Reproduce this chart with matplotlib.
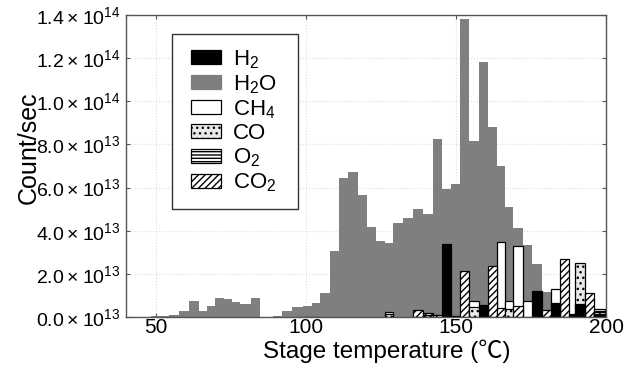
import matplotlib
matplotlib.use("Agg")
import matplotlib.pyplot as plt
import numpy as np
from matplotlib.patches import Patch, Rectangle

plt.rcParams['font.family'] = ['Liberation Sans', 'DejaVu Sans']
plt.rcParams['mathtext.fontset'] = 'custom'
plt.rcParams['mathtext.rm'] = 'Liberation Sans'
plt.rcParams['mathtext.default'] = 'regular'
plt.rcParams['hatch.linewidth'] = 1.0

# Temperature bin edges (deg C)
temp_edges = [48.2, 51.3, 54.4, 57.8, 61.1, 64.3, 66.9, 69.6, 72.7, 75.2,
              78.0, 81.5, 84.7, 88.9, 92.1, 95.4, 98.9, 101.9, 104.7, 108.0,
              111.1, 114.1, 117.2, 120.2, 123.2, 126.3, 129.1, 132.4, 135.8, 138.9,
              142.2, 145.4, 148.3, 151.3, 154.3, 157.7, 160.7, 163.6, 166.2, 169.1,
              172.4, 175.4, 178.6, 181.6, 184.5, 187.5, 189.5, 193.0, 196.0, 199.7]

# Counts (units of 1e13 count/sec), one per bin
h2o = [0.03, 0.05, 0.10, 0.30, 0.72, 0.26, 0.49, 0.90, 0.85, 0.70,
       0.62, 0.90, 0.00, 0.05, 0.26, 0.45, 0.52, 0.66, 1.13, 3.06,
       6.46, 6.74, 5.66, 4.16, 3.52, 3.42, 4.34, 4.58, 5.00, 4.78,
       8.27, 5.92, 6.18, 13.8, 8.15, 11.84, 8.80, 7.02, 5.10, 4.13,
       3.34, 2.46, 1.17, 0.50, 0.00, 0.00, 0.00, 0.00, 0.00]

h2 = [0, 0, 0, 0, 0, 0, 0, 0, 0, 0,
      0, 0, 0, 0, 0, 0, 0.02, 0.02, 0, 0,
      0, 0, 0, 0, 0, 0, 0, 0, 0, 0,
      0, 3.37, 0.05, 0, 0, 0.56, 0, 0, 0, 0,
      0, 1.22, 0, 0.66, 0, 0.15, 0.60, 0, 0.14]

ch4 = [0, 0, 0, 0, 0, 0, 0, 0, 0, 0,
       0, 0, 0, 0, 0, 0, 0, 0, 0, 0,
       0, 0, 0, 0, 0, 0.25, 0, 0, 0, 0,
       0, 0, 0, 0, 0.76, 0, 0, 3.48, 0.73, 3.29,
       0.76, 0, 0, 1.28, 0, 0, 0, 0, 0.36]

co = [0, 0, 0, 0, 0, 0, 0, 0, 0, 0,
      0, 0, 0, 0, 0, 0, 0, 0, 0, 0,
      0, 0, 0, 0, 0, 0.15, 0, 0, 0, 0.10,
      0.10, 0, 0, 0, 0.45, 0, 0, 0, 0.36, 0,
      0, 0, 0, 0, 0, 0, 2.49, 0, 0]

o2 = [0, 0, 0, 0, 0, 0, 0, 0, 0, 0,
      0, 0, 0, 0, 0, 0, 0, 0, 0, 0,
      0, 0, 0, 0, 0, 0, 0, 0, 0, 0,
      0, 0, 0, 0, 0, 0, 0, 0, 0, 0,
      0, 0, 0, 0, 0, 0, 0, 0, 0.28]

co2 = [0, 0, 0, 0, 0, 0, 0, 0, 0, 0,
       0, 0, 0, 0, 0, 0, 0, 0, 0, 0,
       0, 0, 0, 0, 0, 0, 0, 0, 0.32, 0.17,
       0.08, 0, 0, 2.15, 0, 0, 2.36, 0.40, 0, 0.51,
       0, 0, 0.32, 0, 2.69, 0, 0, 1.10, 0.22]

labels = ['H$_2$', 'H$_2$O', 'CH$_4$', 'CO', 'O$_2$', 'CO$_2$']
yticks = [0, 2e13, 4e13, 6e13, 8e13, 1.0e14, 1.2e14, 1.4e14]
ytick_labels = [r'$0.0\times10^{13}$', r'$2.0\times10^{13}$', r'$4.0\times10^{13}$',
                r'$6.0\times10^{13}$', r'$8.0\times10^{13}$', r'$1.0\times10^{14}$',
                r'$1.2\times10^{14}$', r'$1.4\times10^{14}$']
xticks = [50, 100, 150, 200]

scale = 1e13
edges = np.array(temp_edges)
left = edges[:-1]
width = np.diff(edges)

W, H = 628, 368
fig = plt.figure(figsize=(W / 100, H / 100), dpi=100)
ax = fig.add_axes([126 / W, 1 - 317 / H, 480 / W, 302 / H])

ax.bar(left, np.array(h2o) * scale, width=width, align='edge',
       color='#7f7f7f', linewidth=0, zorder=2)

styles = {
    'H2': dict(facecolor='black', hatch=None),
    'CH4': dict(facecolor='white', hatch=None),
    'CO': dict(facecolor='#e8e8e8', hatch='...'),
    'O2': dict(facecolor='white', hatch='-----'),
    'CO2': dict(facecolor='white', hatch='/////'),
}
series = [('H2', h2), ('CH4', ch4), ('CO', co), ('O2', o2), ('CO2', co2)]
for name, vals in series:
    vals = np.array(vals, dtype=float)
    mask = vals > 0
    st = styles[name]
    bars = ax.bar(left[mask], vals[mask] * scale, width=width[mask], align='edge',
                  facecolor=st['facecolor'], edgecolor='black', linewidth=0.9,
                  hatch=st['hatch'])
    for b, v in zip(bars, vals[mask]):
        b.set_zorder(10 - v)

ax.set_xlim(40, 200)
ax.set_ylim(0, 1.4e14)
ax.set_xticks(xticks)
ax.set_xticklabels([str(t) for t in xticks], fontsize=15)
ax.set_yticks(yticks)
ax.set_yticklabels(ytick_labels, fontsize=14)
ax.tick_params(axis='both', direction='in', top=True, right=True, length=3,
               color='#555555')
ax.tick_params(axis='y', pad=4)
ax.tick_params(axis='x', pad=1)
for s in ax.spines.values():
    s.set_color('#555555')
    s.set_linewidth(1.0)
    s.set_zorder(20)
ax.grid(True, color='#dddddd', linestyle=':', linewidth=0.8, zorder=0)
ax.set_axisbelow(True)

ax.set_xlabel('Stage temperature (℃)', fontsize=17.5, labelpad=0,
              family=['Liberation Sans', 'Noto Sans CJK JP', 'DejaVu Sans'])
ax.xaxis.set_label_coords(0.544, -0.075)
ax.set_ylabel('Count/sec', fontsize=18)
ax.yaxis.set_label_coords(-0.178, 0.56)

# legend frame
fig.patches.append(Rectangle((172 / W, 1 - 209 / H), 126 / W, 175 / H,
                             transform=fig.transFigure, facecolor='white',
                             edgecolor='#333333', linewidth=1.0, zorder=25))

handles = [
    Patch(facecolor='black', edgecolor='black', linewidth=0.9),
    Patch(facecolor='#7f7f7f', edgecolor='#7f7f7f', linewidth=0.9),
    Patch(facecolor='white', edgecolor='black', linewidth=0.9),
    Patch(facecolor='#e8e8e8', edgecolor='black', hatch='...', linewidth=0.9),
    Patch(facecolor='white', edgecolor='black', hatch='-----', linewidth=0.9),
    Patch(facecolor='white', edgecolor='black', hatch='/////', linewidth=0.9),
]
leg = fig.legend(handles, labels, loc='upper left',
                 bbox_to_anchor=(190.5 / W, 1 - 48 / H), fontsize=16,
                 frameon=False, handlelength=1.35, handleheight=0.6,
                 labelspacing=0.11, handletextpad=0.55, borderpad=0,
                 borderaxespad=0)
leg.set_zorder(30)

fig.savefig('out.png', dpi=100)
